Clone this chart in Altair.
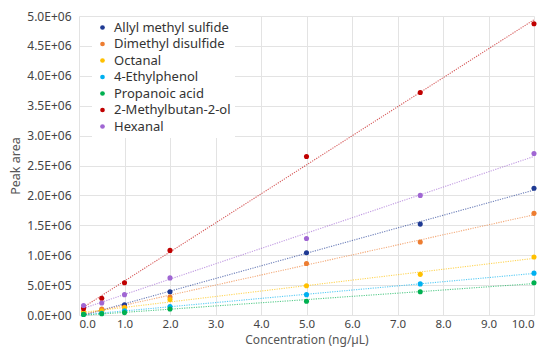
import altair as alt
import pandas as pd

conc = [0.1, 0.5, 1.0, 2.0, 5.0, 7.5, 10.0]
names = ["Allyl methyl sulfide", "Dimethyl disulfide", "Octanal", "4-Ethylphenol",
         "Propanoic acid", "2-Methylbutan-2-ol", "Hexanal"]
colors = ["#1f3a93", "#ed7d31", "#ffc000", "#00b0f0", "#00b050", "#c00000", "#a066d3"]

allyl = [30000, 80000, 170000, 390000, 1040000, 1520000, 2120000]
dimethyl = [50000, 100000, 130000, 300000, 860000, 1220000, 1700000]
octanal = [40000, 70000, 120000, 260000, 490000, 680000, 970000]
ethylphenol = [10000, 30000, 70000, 140000, 340000, 520000, 700000]
propanoic = [10000, 20000, 40000, 100000, 230000, 390000, 540000]
methylbutanol = [110000, 280000, 540000, 1080000, 2650000, 3720000, 4870000]
hexanal = [160000, 200000, 340000, 620000, 1280000, 2000000, 2700000]

series = [allyl, dimethyl, octanal, ethylphenol, propanoic, methylbutanol, hexanal]
rows = []
for n, vals in zip(names, series):
    for c, v in zip(conc, vals):
        rows.append({"compound": n, "trend": n, "conc": c, "area": v})
df = pd.DataFrame(rows)

FONT = "Noto Sans"

xenc = alt.X("conc:Q", title="Concentration (ng/µL)",
             scale=alt.Scale(domain=[0, 10], nice=False),
             axis=alt.Axis(values=list(range(0, 11)), format=".1f", labelPadding=3, titlePadding=5))
yexpr = ("datum.value == 0 ? '0.0E+00' : format(datum.value / pow(10, floor(log(datum.value)/LN10 + 1e-9)), '.1f')"
         " + 'E+' + (floor(log(datum.value)/LN10 + 1e-9) < 10 ? '0' : '') + floor(log(datum.value)/LN10 + 1e-9)")
yenc = alt.Y("area:Q", title="Peak area",
             scale=alt.Scale(domain=[0, 5000000], nice=False),
             axis=alt.Axis(values=[i * 500000 for i in range(11)], labelExpr=yexpr,
                           labelPadding=8, titlePadding=4))

base = alt.Chart(df)

lines = base.transform_regression("conc", "area", groupby=["trend"]).mark_line(
    strokeDash=[1.2, 1.2], strokeWidth=1.1, opacity=0.65
).encode(x=xenc, y=yenc,
         stroke=alt.Stroke("trend:N", sort=names,
                           scale=alt.Scale(domain=names, range=colors), legend=None))

points = base.mark_circle(size=26, opacity=1).encode(
    x=xenc, y=yenc,
    fill=alt.Fill("compound:N", sort=names,
                  scale=alt.Scale(domain=names, range=colors),
                  legend=alt.Legend(title=None, orient="none", legendX=13, legendY=1,
                                    symbolType="circle", symbolSize=22, symbolStrokeWidth=0,
                                    labelFontSize=13, labelColor="#333333",
                                    labelFont=FONT, rowPadding=2.5,
                                    fillColor="white", padding=4,
                                    labelOffset=5))
)

chart = alt.layer(lines, points).resolve_scale(fill="independent", stroke="independent").properties(
    width=455, height=299,
    autosize=alt.AutoSizeParams(type="none"),
    padding={"left": 71, "top": 8, "right": 12, "bottom": 34},
).configure_axis(
    grid=True, gridColor="#e3e3e3", gridWidth=1, domain=False, ticks=False,
    labelFont=FONT, labelFontSize=12, labelColor="#444444",
    titleFont=FONT, titleFontSize=12.5, titleColor="#555555", titleFontWeight="normal",
).configure_axisX(labelFontSize=11.5, titleFontSize=12).configure_view(stroke=None)

chart.save("out.html", embed_options={"renderer": "svg", "actions": False})
